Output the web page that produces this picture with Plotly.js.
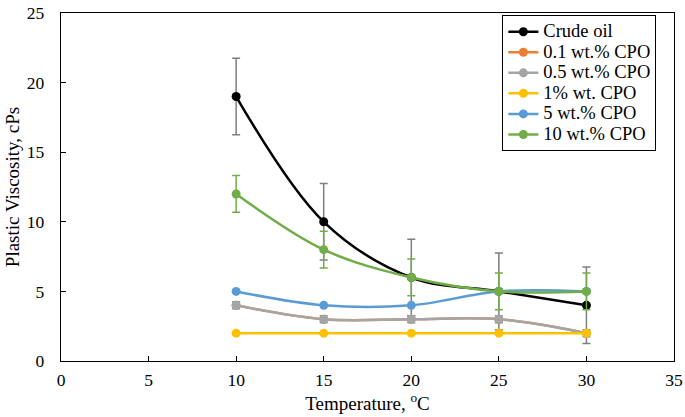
<!DOCTYPE html>
<html>
<head>
<meta charset="utf-8">
<script src="https://cdn.plot.ly/plotly-3.0.1.min.js"></script>
<style>html,body{margin:0;padding:0;background:#fff}#chart{width:685px;height:417px}</style>
</head>
<body>
<div id="chart"></div>
<script>
const temperature = [10, 15, 20, 25, 30];
const crudeOil = [19, 10, 6, 5, 4];
const cpo01 = [4, 3, 3, 3, 2];
const cpo05 = [4, 3, 3, 3, 2];
const cpo1 = [2, 2, 2, 2, 2];
const cpo5 = [5, 4, 4, 5, 5];
const cpo10 = [12, 8, 6, 5, 5];
const crudeErr = [2.75, 2.75, 2.75, 2.75, 2.75];
const cpo05Err = [0.25, 0.25, 0.25, 0.25, 0.25];
const cpo10Err = [1.32, 1.32, 1.32, 1.32, 1.32];
const seriesNames = ['Crude oil', '0.1 wt.% CPO', '0.5 wt.% CPO', '1% wt. CPO', '5 wt.% CPO', '10 wt.% CPO'];
const seriesColors = ['#000000', '#ed7d31', '#a5a5a5', '#ffc000', '#5b9bd5', '#70ad47'];
const seriesValues = [crudeOil, cpo01, cpo05, cpo1, cpo5, cpo10];
const seriesErrors = [crudeErr, null, cpo05Err, null, null, cpo10Err];
const errColors = ['#7f7f7f', null, '#8c8c8c', null, null, '#70ad47'];

const traces = seriesValues.map((vals, i) => {
  const t = {
    x: temperature, y: vals,
    name: '<span style="font-size:18.5px">' + seriesNames[i] + '</span>',
    type: 'scatter', mode: 'lines+markers',
    line: {color: seriesColors[i], width: 2.5, shape: 'spline', smoothing: 1},
    marker: {color: seriesColors[i], size: 9, symbol: 'circle'}
  };
  if (seriesErrors[i]) {
    t.error_y = {type: 'data', array: seriesErrors[i], visible: true, color: errColors[i], thickness: 1.5, width: 4};
  }
  return t;
});

const fam = '"Liberation Serif", "Times New Roman", serif';
const tickFont = {family: fam, size: 17.5, color: '#000'};
const titleFont = {family: fam, size: 19, color: '#000'};
const layout = {
  width: 685, height: 417,
  margin: {l: 61, r: 11, t: 13, b: 56},
  paper_bgcolor: '#fff', plot_bgcolor: '#fff',
  font: tickFont,
  showlegend: true,
  legend: {x: 0.72, y: 0.993, xanchor: 'left', yanchor: 'top', bgcolor: '#fff',
           bordercolor: '#000', borderwidth: 1,
           font: {family: fam, size: 13.5, color: '#000'}, tracegroupgap: 0},
  xaxis: {range: [0, 35], dtick: 5, tick0: 0, showgrid: false, zeroline: false,
          showline: true, linecolor: '#000', linewidth: 1.3, mirror: true,
          ticks: 'inside', ticklen: 5, tickcolor: '#000', tickfont: tickFont, ticklabelstandoff: 3,
          title: {text: 'Temperature, <sup>o</sup>C', font: titleFont, standoff: 4}},
  yaxis: {range: [0, 25], dtick: 5, tick0: 0, showgrid: false, zeroline: false,
          showline: true, linecolor: '#000', linewidth: 1.3, mirror: true,
          ticks: 'inside', ticklen: 5, tickcolor: '#000', tickfont: tickFont, ticklabelstandoff: 12,
          title: {text: 'Plastic Viscosity, cPs', font: titleFont, standoff: 2}}
};
Plotly.newPlot('chart', traces, layout, {staticPlot: true, displayModeBar: false});
</script>
</body>
</html>
